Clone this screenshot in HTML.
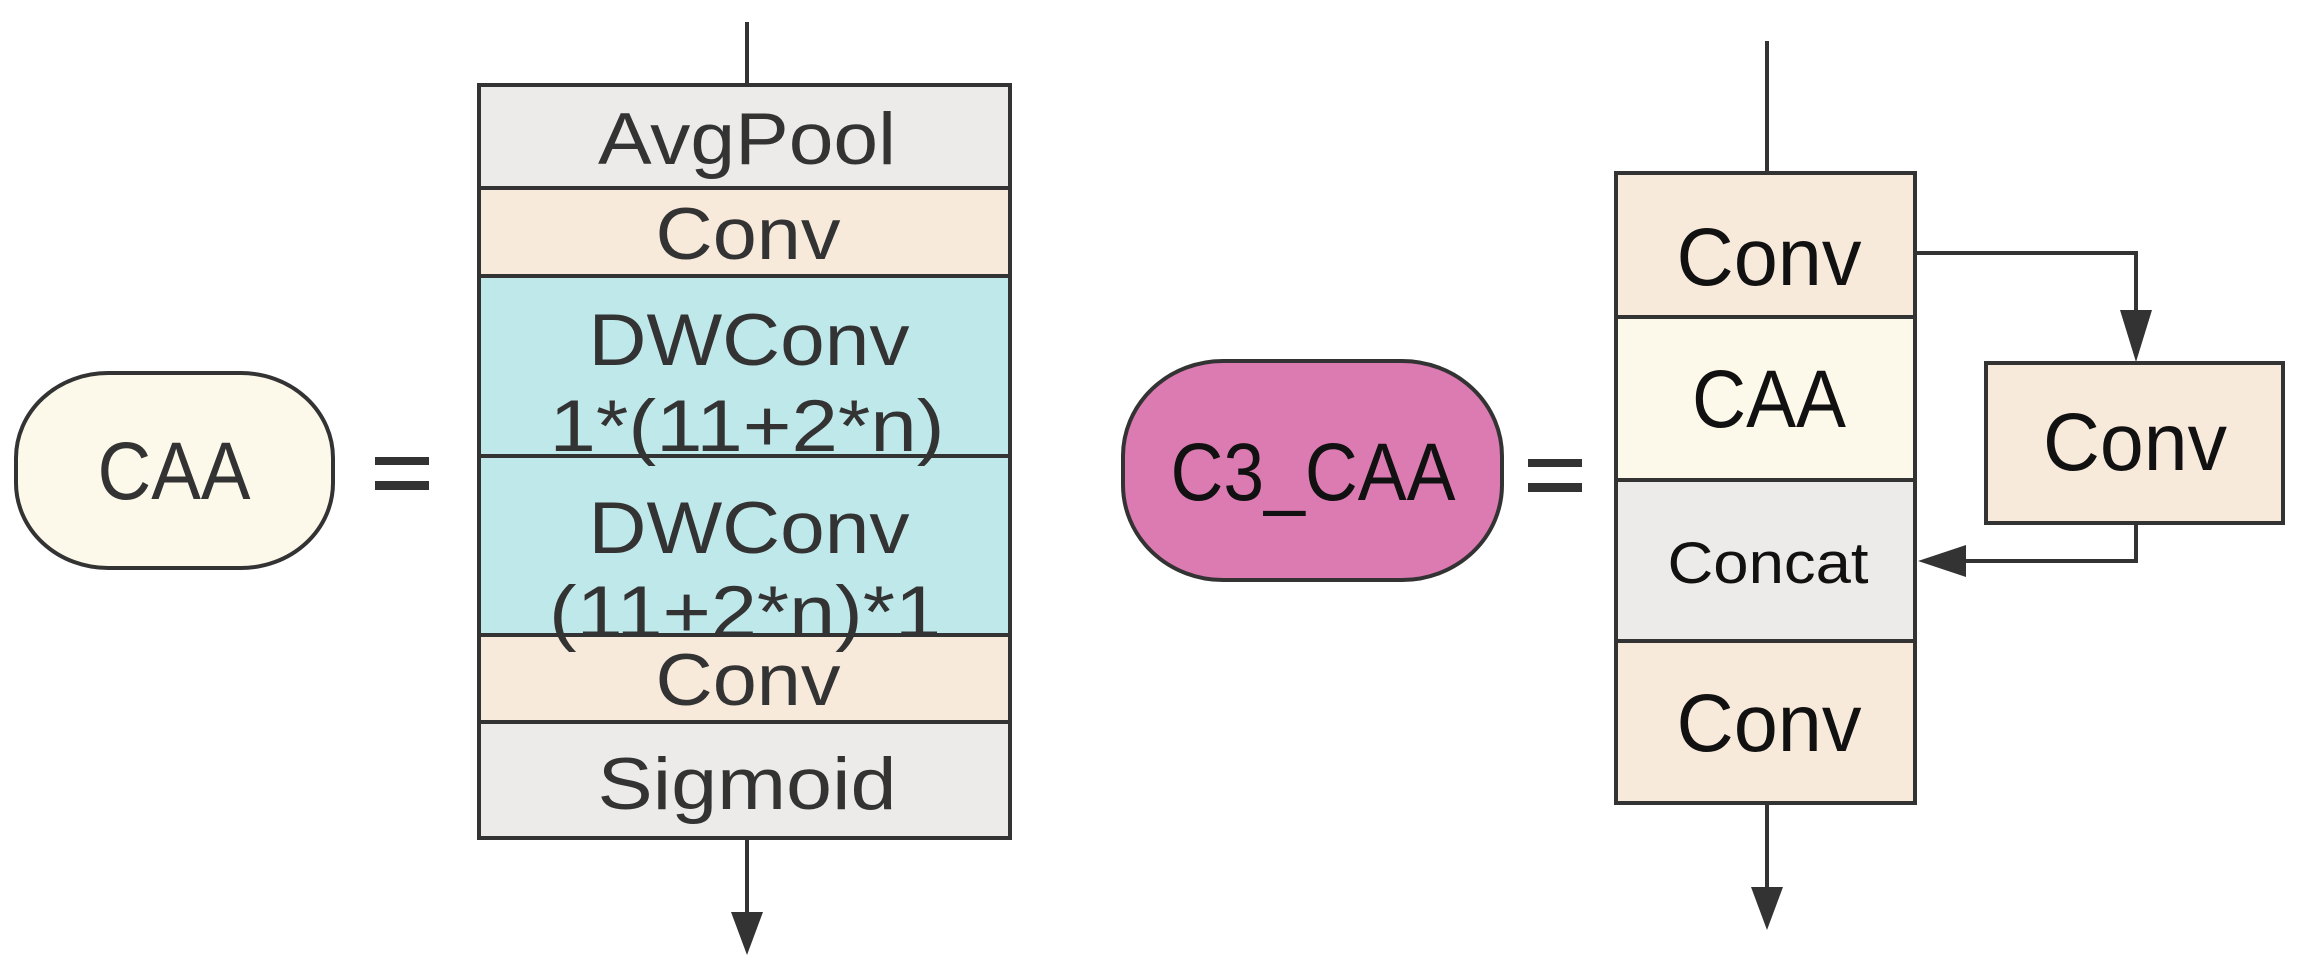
<!DOCTYPE html>
<html><head><meta charset="utf-8"><style>html,body{margin:0;padding:0;background:#fff}svg{display:block}</style></head>
<body>
<svg width="2301" height="979" viewBox="0 0 2301 979" xmlns="http://www.w3.org/2000/svg" font-family="'Liberation Sans', 'DejaVu Sans', sans-serif" text-anchor="middle">
<g stroke="#333" stroke-width="4">
<line x1="747" y1="22" x2="747" y2="85"/>
<rect x="479" y="85" width="531" height="103" fill="#ecebea"/>
<rect x="479" y="188" width="531" height="88" fill="#f8eadb"/>
<rect x="479" y="276" width="531" height="180" fill="#bfe8ea"/>
<rect x="479" y="456" width="531" height="179" fill="#bfe8ea"/>
<rect x="479" y="635" width="531" height="87" fill="#f8eadb"/>
<rect x="479" y="722" width="531" height="116" fill="#ecebea"/>
<line x1="747" y1="838" x2="747" y2="915"/>
<rect x="16" y="373" width="317" height="195" rx="92" ry="85" fill="#fcf9ea"/>
<rect x="1123" y="361" width="379" height="219" rx="100" ry="95" fill="#dc7ab2"/>
<line x1="1767" y1="41" x2="1767" y2="173"/>
<rect x="1616" y="173" width="299" height="144" fill="#f8eadb"/>
<rect x="1616" y="317" width="299" height="163" fill="#fcf9ea"/>
<rect x="1616" y="480" width="299" height="161" fill="#ecebea"/>
<rect x="1616" y="641" width="299" height="162" fill="#f8eadb"/>
<line x1="1767" y1="803" x2="1767" y2="890"/>
<rect x="1986" y="363" width="297" height="160" fill="#f8eadb"/>
<polyline points="1915,253 2136,253 2136,312" fill="none"/>
<polyline points="2136,523 2136,561 1962,561" fill="none"/>
</g>
<g fill="#333">
<polygon points="731,912 763,912 747,955"/>
<polygon points="1751,887 1783,887 1767,930"/>
<polygon points="2120,310 2152,310 2136,362"/>
<polygon points="1966,545 1966,577 1918,561"/>
<rect x="375" y="457" width="54" height="8"/>
<rect x="375" y="481" width="54" height="9"/>
<rect x="1528" y="459" width="54" height="8"/>
<rect x="1528" y="483" width="54" height="9"/>
</g>
<g fill="#333" font-size="73">
<text x="747" y="164" textLength="298" lengthAdjust="spacingAndGlyphs">AvgPool</text>
<text x="748" y="259" textLength="185" lengthAdjust="spacingAndGlyphs">Conv</text>
<text x="749" y="365" textLength="321" lengthAdjust="spacingAndGlyphs">DWConv</text>
<text x="747" y="451" textLength="395" lengthAdjust="spacingAndGlyphs">1*(11+2*n)</text>
<text x="749" y="553" textLength="321" lengthAdjust="spacingAndGlyphs">DWConv</text>
<text x="745" y="637" textLength="392" lengthAdjust="spacingAndGlyphs">(11+2*n)*1</text>
<text x="748" y="705" textLength="185" lengthAdjust="spacingAndGlyphs">Conv</text>
<text x="747" y="809" textLength="299" lengthAdjust="spacingAndGlyphs">Sigmoid</text>
<text x="174" y="499" font-size="82" textLength="153" lengthAdjust="spacingAndGlyphs">CAA</text>
</g>
<g fill="#111">
<text x="1313" y="500" font-size="82" textLength="285" lengthAdjust="spacingAndGlyphs">C3_CAA</text>
<text x="1769" y="285" font-size="82" textLength="185" lengthAdjust="spacingAndGlyphs">Conv</text>
<text x="1769" y="427" font-size="82" textLength="154" lengthAdjust="spacingAndGlyphs">CAA</text>
<text x="1768" y="583" font-size="58" textLength="201" lengthAdjust="spacingAndGlyphs">Concat</text>
<text x="1769" y="751" font-size="82" textLength="185" lengthAdjust="spacingAndGlyphs">Conv</text>
<text x="2135" y="470" font-size="82" textLength="184" lengthAdjust="spacingAndGlyphs">Conv</text>
</g>
</svg>
</body></html>
